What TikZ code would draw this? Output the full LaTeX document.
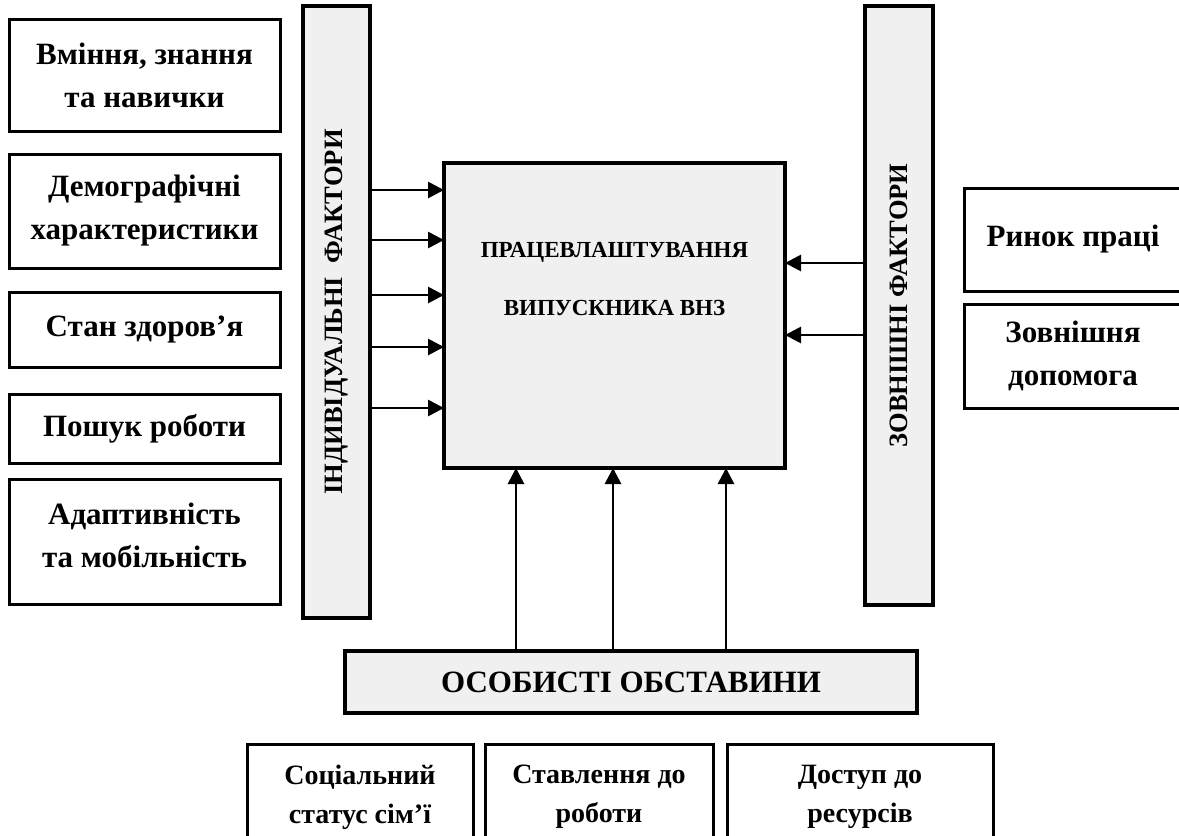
\documentclass[tikz,border=0pt]{standalone}
\usepackage{fontspec}
\setmainfont{Liberation Serif}[BoldFont={Liberation Serif Bold}]
\usepackage{graphicx}
\usetikzlibrary{arrows.meta}
\definecolor{panel}{RGB}{240,240,240}
\begin{document}
\begin{tikzpicture}[x=1pt,y=-1pt,
  box/.style={draw=black, line width=3pt, fill=white, inner sep=0pt, outer sep=0pt, align=center,
    font=\bfseries\fontsize{31}{43}\selectfont},
  lowbox/.style={box, font=\bfseries\fontsize{28}{39}\selectfont},
  bar/.style={draw=black, line width=3.4pt, fill=panel, inner sep=0pt, outer sep=0pt,
    font=\bfseries\fontsize{26.5}{30}\selectfont},
  arr/.style={line width=2.8pt, -{Triangle[length=16pt,width=16pt]}},
  plain/.style={inner sep=0pt, align=center}
]
\useasboundingbox (0,0) rectangle (1179,836);
\clip (0,0) rectangle (1179,836);

% left factor boxes
\node[box, minimum width=271pt, minimum height=112pt] (b1) at (144.5,75) {Вміння, знання\\та навички};
\node[box, minimum width=271pt, minimum height=114pt] (b2) at (144.5,211) {Демографічні\\характеристики};
\node[box, minimum width=271pt, minimum height=75pt] (b3) at (144.5,329.5) {Стан здоров’я};
\node[box, minimum width=271pt, minimum height=69pt] (b4) at (144.5,428.5) {Пошук роботи};
\node[box, minimum width=271pt, minimum height=125pt, text depth=12pt] (b5) at (144.5,541.5) {Адаптивність\\та мобільність};

% vertical bars
\node[bar, minimum width=67pt, minimum height=612pt] (ind) at (336.5,312) {\rotatebox{90}{ІНДИВІДУАЛЬНІ~~ФАКТОРИ}};
\node[bar, minimum width=68pt, minimum height=599pt] (ext) at (899,305.5) {\rotatebox{90}{ЗОВНІШНІ ФАКТОРИ}};

% central box
\node[bar, minimum width=341pt, minimum height=305pt] (main) at (614.5,315.5) {};
\node[plain, font=\bfseries\fontsize{23}{58}\selectfont] (maintext) at (614.5,279) {ПРАЦЕВЛАШТУВАННЯ\\ВИПУСКНИКА ВНЗ};

% right boxes
\node[box, minimum width=218pt, minimum height=103pt] (r1) at (1073,239.5) {Ринок праці};
\node[box, minimum width=218pt, minimum height=104pt] (r2) at (1073,356) {Зовнішня\\допомога};

% personal circumstances
\node[bar, minimum width=572pt, minimum height=62pt, font=\bfseries\fontsize{31}{36}\selectfont] (osob) at (631,682) {ОСОБИСТІ ОБСТАВИНИ};

% bottom boxes
\node[lowbox, minimum width=226pt, minimum height=106pt] (c1) at (360,797) {Соціальний\\статус сім’ї};
\node[lowbox, minimum width=228pt, minimum height=106pt] (c2) at (599,797) {Ставлення до\\роботи};
\node[lowbox, minimum width=266pt, minimum height=106pt] (c3) at (860,797) {Доступ до\\ресурсів};

% arrows from individual factors
\foreach \yy in {190,240,295,347,408}
  \draw[arr] (ind.east |- 0,\yy) -- (main.west |- 0,\yy);
% arrows from external factors
\foreach \yy in {263,335}
  \draw[arr] (ext.west |- 0,\yy) -- (main.east |- 0,\yy);
% arrows from personal circumstances
\foreach \xx in {516,613,726}
  \draw[arr] (osob.north -| \xx,0) -- (main.south -| \xx,0);
\end{tikzpicture}
\end{document}
